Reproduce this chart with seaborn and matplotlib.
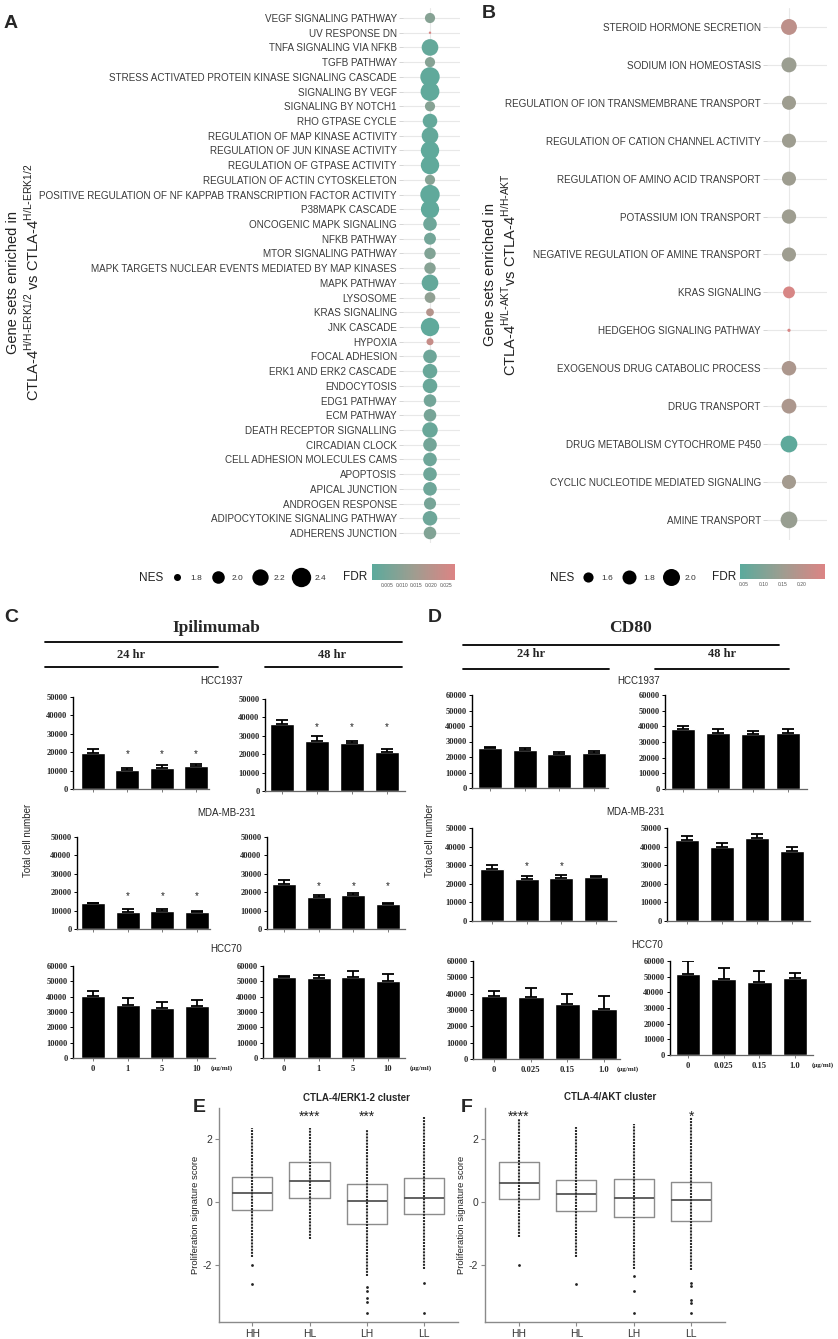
import matplotlib
matplotlib.use("Agg")
import matplotlib.pyplot as plt
import seaborn as sns
import numpy as np
import pandas as pd
from matplotlib.colors import LinearSegmentedColormap, Normalize
from matplotlib.cm import ScalarMappable
from matplotlib.lines import Line2D

sns.set_theme(style="white")
plt.rcParams["font.family"] = ["Liberation Sans", "DejaVu Sans"]
plt.rcParams["axes.unicode_minus"] = False
SERIF = ["Liberation Serif", "DejaVu Serif"]

W, H = 838, 1339

# ---------------- A: ERK1/2 gene sets ----------------
a_terms = [
    "VEGF SIGNALING PATHWAY", "UV RESPONSE DN", "TNFA SIGNALING VIA NFKB", "TGFB PATHWAY",
    "STRESS ACTIVATED PROTEIN KINASE SIGNALING CASCADE", "SIGNALING BY VEGF",
    "SIGNALING BY NOTCH1", "RHO GTPASE CYCLE", "REGULATION OF MAP KINASE ACTIVITY",
    "REGULATION OF JUN KINASE ACTIVITY", "REGULATION OF GTPASE ACTIVITY",
    "REGULATION OF ACTIN CYTOSKELETON",
    "POSITIVE REGULATION OF NF KAPPAB TRANSCRIPTION FACTOR ACTIVITY", "P38MAPK CASCADE",
    "ONCOGENIC MAPK SIGNALING", "NFKB PATHWAY", "MTOR SIGNALING PATHWAY",
    "MAPK TARGETS NUCLEAR EVENTS MEDIATED BY MAP KINASES", "MAPK PATHWAY", "LYSOSOME",
    "KRAS SIGNALING", "JNK CASCADE", "HYPOXIA", "FOCAL ADHESION", "ERK1 AND ERK2 CASCADE",
    "ENDOCYTOSIS", "EDG1 PATHWAY", "ECM PATHWAY", "DEATH RECEPTOR SIGNALLING",
    "CIRCADIAN CLOCK", "CELL ADHESION MOLECULES CAMS", "APOPTOSIS", "APICAL JUNCTION",
    "ANDROGEN RESPONSE", "ADIPOCYTOKINE SIGNALING PATHWAY", "ADHERENS JUNCTION",
]
a_nes = [1.90, 1.72, 2.22, 1.90, 2.40, 2.36, 1.90, 2.10, 2.22, 2.33, 2.33, 1.90,
         2.40, 2.32, 2.05, 1.97, 1.95, 1.95, 2.22, 1.92, 1.82, 2.33, 1.80, 2.05,
         2.10, 2.10, 2.00, 2.00, 2.15, 2.05, 2.05, 2.05, 2.05, 1.98, 2.10, 2.00]
a_fdr = [0.009, 0.027, 0.002, 0.009, 0.001, 0.001, 0.009, 0.002, 0.002, 0.001, 0.001, 0.009,
         0.001, 0.001, 0.004, 0.005, 0.008, 0.009, 0.002, 0.011, 0.019, 0.001, 0.023, 0.004,
         0.003, 0.003, 0.005, 0.006, 0.003, 0.005, 0.004, 0.004, 0.004, 0.006, 0.004, 0.008]
a_nes_legend = [1.8, 2.0, 2.2, 2.4]
a_fdr_ticks = [0.005, 0.010, 0.015, 0.020, 0.025]

# ---------------- B: AKT gene sets ----------------
b_terms = [
    "STEROID HORMONE SECRETION", "SODIUM ION HOMEOSTASIS",
    "REGULATION OF ION TRANSMEMBRANE TRANSPORT", "REGULATION OF CATION CHANNEL ACTIVITY",
    "REGULATION OF AMINO ACID TRANSPORT", "POTASSIUM ION TRANSPORT",
    "NEGATIVE REGULATION OF AMINE TRANSPORT", "KRAS SIGNALING", "HEDGEHOG SIGNALING PATHWAY",
    "EXOGENOUS DRUG CATABOLIC PROCESS", "DRUG TRANSPORT", "DRUG METABOLISM CYTOCHROME P450",
    "CYCLIC NUCLEOTIDE MEDIATED SIGNALING", "AMINE TRANSPORT",
]
b_nes = [1.92, 1.86, 1.80, 1.80, 1.80, 1.82, 1.80, 1.68, 1.40, 1.83, 1.85, 1.98, 1.80, 1.98]
b_fdr = [0.205, 0.145, 0.15, 0.15, 0.15, 0.15, 0.15, 0.25, 0.25, 0.175, 0.175, 0.045, 0.16, 0.14]
b_nes_legend = [1.6, 1.8, 2.0]
b_fdr_ticks = [0.05, 0.10, 0.15, 0.20]

# ---------------- C: Ipilimumab ----------------
ipi_doses = ["0", "1", "5", "10"]
ipi24_hcc1937 = [19300, 10300, 11600, 12300]
ipi24_hcc1937_err = [2500, 1100, 1200, 1100]
ipi48_hcc1937 = [36500, 27400, 25900, 21400]
ipi48_hcc1937_err = [2200, 2700, 1300, 1600]
ipi24_mda = [14000, 9400, 9600, 9100]
ipi24_mda_err = [200, 1400, 1200, 900]
ipi48_mda = [24700, 17400, 18700, 13500]
ipi48_mda_err = [1800, 1100, 1000, 800]
ipi24_hcc70 = [40400, 34700, 32500, 33600]
ipi24_hcc70_err = [3500, 4600, 3700, 4100]
ipi48_hcc70 = [52600, 52100, 52600, 50000]
ipi48_hcc70_err = [900, 2200, 4400, 4500]
ipi_sig = [False, True, True, True]

# ---------------- D: CD80 ----------------
cd80_doses = ["0", "0.025", "0.15", "1.0"]
cd24_hcc1937 = [26100, 24600, 21900, 22900]
cd24_hcc1937_err = [300, 1500, 1200, 900]
cd48_hcc1937 = [38100, 36000, 35100, 36000]
cd48_hcc1937_err = [1900, 2100, 1700, 2100]
cd24_mda = [28200, 22500, 23200, 23400]
cd24_mda_err = [1800, 1500, 1800, 600]
cd24_mda_sig = [False, True, True, False]
cd48_mda = [43500, 39900, 44400, 37600]
cd48_mda_err = [2000, 1800, 2400, 2000]
cd24_hcc70 = [38800, 38200, 33700, 30400]
cd24_hcc70_err = [3000, 5100, 6100, 8200]
cd48_hcc70 = [51900, 48300, 46800, 49400]
cd48_hcc70_err = [8100, 7000, 7000, 2700]
no_sig = [False, False, False, False]

# ---------------- E/F: proliferation score boxes ----------------
groups = ["HH", "HL", "LH", "LL"]
e_q1 = [-0.25, 0.15, -0.68, -0.38]
e_med = [0.30, 0.67, 0.03, 0.15]
e_q3 = [0.82, 1.28, 0.60, 0.78]
e_lo = [-1.75, -1.15, -2.35, -2.10]
e_hi = [2.35, 2.35, 2.30, 2.70]
e_out_group = ["HH", "HH", "LH", "LH", "LH", "LH", "LH", "LL", "LL"]
e_out_score = [-2.0, -2.6, -2.7, -2.8, -3.05, -3.15, -3.5, -2.55, -3.5]
e_stars = ["", "****", "***", ""]

f_q1 = [0.10, -0.28, -0.45, -0.60]
f_med = [0.62, 0.28, 0.15, 0.07]
f_q3 = [1.28, 0.72, 0.75, 0.65]
f_lo = [-1.10, -1.75, -2.10, -2.15]
f_hi = [2.65, 2.40, 2.50, 2.70]
f_out_group = ["HH", "HL", "LH", "LH", "LH", "LL", "LL", "LL", "LL", "LL"]
f_out_score = [-2.0, -2.6, -2.35, -2.8, -3.5, -2.55, -2.65, -3.1, -3.2, -3.5]
f_stars = ["****", "", "", "*"]

fdr_cmap = LinearSegmentedColormap.from_list("fdr", ["#5BAA9C", "#9E9D90", "#DC8484"])

fig = plt.figure(figsize=(W / 100, H / 100), dpi=100)


def px_axes(x0, y0, x1, y1):
    return fig.add_axes([x0 / W, 1 - y1 / H, (x1 - x0) / W, (y1 - y0) / H])


def ftext(x, y, s, **kw):
    fig.text(x / W, 1 - y / H, s, **kw)


def hline(x0, x1, y, lw=1.3):
    fig.add_artist(Line2D([x0 / W, x1 / W], [1 - y / H, 1 - y / H],
                          transform=fig.transFigure, color="black", lw=lw))


def size_of(v, norm, sizes):
    return sizes[0] + (v - norm[0]) / (norm[1] - norm[0]) * (sizes[1] - sizes[0])


def dot_panel(box, terms, nes, fdr, size_norm, sizes, fdr_norm, xlim, pad, fs):
    ax = px_axes(*box)
    df = pd.DataFrame({"term": terms, "nes": nes, "fdr": fdr, "pos": 0.0})
    sns.scatterplot(data=df, x="pos", y="term", size="nes", sizes=sizes, size_norm=size_norm,
                    hue="fdr", hue_norm=fdr_norm, palette=fdr_cmap, legend=False,
                    linewidth=0, ax=ax, zorder=3)
    n = len(terms)
    ax.set_ylim(n - 1 + pad[1], -pad[0])
    ax.set_xlim(*xlim)
    ax.set_xticks([0])
    ax.set_xticklabels([])
    ax.set_xlabel("")
    ax.set_ylabel("")
    ax.grid(True, color="#e8e8e8", lw=0.8)
    ax.set_axisbelow(True)
    for s in ax.spines.values():
        s.set_visible(False)
    ax.tick_params(axis="x", length=0)
    ax.tick_params(axis="y", left=True, length=3, width=0.6, color="#cfcfcf",
                   labelsize=fs, labelcolor="#3a3a3a", pad=1.5)
    return ax


def size_legend(values, norm, sizes, x_px, y_px):
    handles = [Line2D([], [], ls="", marker="o", color="black", markeredgewidth=0,
                      markersize=np.sqrt(size_of(v, norm, sizes))) for v in values]
    fig.legend(handles, [f"{v:.1f}" for v in values], loc="center left",
               bbox_to_anchor=(x_px / W, 1 - y_px / H), ncol=len(values), frameon=False,
               fontsize=6, handlelength=1.2, handletextpad=1.05, columnspacing=1.3,
               borderpad=0, borderaxespad=0, labelcolor="#333333")


def fdr_bar(box, vmin, vmax, ticks):
    cax = px_axes(*box)
    cb = fig.colorbar(ScalarMappable(Normalize(vmin, vmax), fdr_cmap), cax=cax,
                      orientation="horizontal")
    cb.outline.set_visible(False)
    cb.set_ticks(ticks, labels=[f"{t:.3f}" if vmax < 0.05 else f"{t:.2f}" for t in ticks])
    cax.tick_params(length=3, width=0.6, color="white", direction="in", top=True,
                    labelsize=3.6, labelcolor="#555555", pad=2.5)


# ---------------- panel A ----------------
a_size_norm, a_sizes = (1.72, 2.42), (3, 200)
dot_panel((403, 8, 460, 543), a_terms, a_nes, a_fdr, a_size_norm, a_sizes, (0.0, 0.028),
          (-0.9, 1.0), (0.68, 0.68), 7.1)
size_legend(a_nes_legend, a_size_norm, a_sizes, 172, 578)
fdr_bar((372, 564, 455, 580), 0.0, 0.028, a_fdr_ticks)
ftext(151, 578, "NES", fontsize=8.5, ha="center", va="center", color="#222222")
ftext(355, 577, "FDR", fontsize=8.5, ha="center", va="center", color="#222222")
ftext(4, 24, "A", fontsize=14, fontweight="bold", va="center")
ftext(24, 282, "Gene sets enriched in\n"
      r"CTLA-4$^{\mathregular{H/H\text{-}ERK1/2}}$ vs CTLA-4$^{\mathregular{H/L\text{-}ERK1/2}}$",
      rotation=90, ha="center", va="center", fontsize=10.5, multialignment="center",
      color="#222222")

# ---------------- panel B ----------------
b_size_norm, b_sizes = (1.39, 2.0), (3, 150)
dot_panel((767, 8, 827, 540), b_terms, b_nes, b_fdr, b_size_norm, b_sizes, (0.0397, 0.259),
          (-0.733, 1.267), (0.5, 0.53), 7.1)
size_legend(b_nes_legend, b_size_norm, b_sizes, 583, 578)
fdr_bar((740, 564, 825, 579), 0.0397, 0.259, b_fdr_ticks)
ftext(562, 578, "NES", fontsize=8.5, ha="center", va="center", color="#222222")
ftext(724, 577, "FDR", fontsize=8.5, ha="center", va="center", color="#222222")
ftext(482, 14, "B", fontsize=14, fontweight="bold", va="center")
ftext(501, 275, "Gene sets enriched in\n"
      r"CTLA-4$^{\mathregular{H/L\text{-}AKT}}$vs CTLA-4$^{\mathregular{H/H\text{-}AKT}}$",
      rotation=90, ha="center", va="center", fontsize=10.5, multialignment="center",
      color="#222222")


# ---------------- bar panels C / D ----------------
def bar_panel(x0, b0, b3, x1, y0, y1, doses, means, errs, sig, ymax, star_y,
              show_x=False, unit_x=None):
    ax = px_axes(x0, y0, x1, y1)
    sp = (b3 - b0) / 3
    df = pd.DataFrame({"dose": doses, "cells": means})
    sns.barplot(data=df, x="dose", y="cells", color="black", saturation=1, width=0.7,
                errorbar=None, ax=ax)
    ax.errorbar(np.arange(len(means)), means, yerr=[np.zeros(len(errs)), errs], fmt="none",
                ecolor="black", elinewidth=1.3, capsize=4.5, capthick=1.3)
    for i, s in enumerate(sig):
        if s:
            ax.text(i, star_y, "*", ha="center", va="center", fontsize=7, color="#222222")
    ax.set_xlim(-(b0 - x0) / sp, 3 + (x1 - b3) / sp)
    ax.set_ylim(0, ymax)
    ax.set_yticks(np.arange(0, ymax + 1, 10000))
    ax.set_yticklabels([str(int(t)) for t in np.arange(0, ymax + 1, 10000)],
                       family=SERIF, fontweight="bold", fontsize=6)
    ax.set_xlabel("")
    ax.set_ylabel("")
    ax.spines["top"].set_visible(False)
    ax.spines["right"].set_visible(False)
    ax.spines["left"].set_color("black")
    ax.spines["left"].set_linewidth(1.0)
    ax.spines["bottom"].set_color("#666666")
    ax.spines["bottom"].set_linewidth(0.9)
    ax.tick_params(axis="y", left=True, length=2, width=0.7, color="black", pad=2)
    ax.tick_params(axis="x", bottom=True, length=2, width=0.6, color="#666666", pad=3)
    if show_x:
        ax.set_xticks(range(len(doses)))
        ax.set_xticklabels(doses, family=SERIF, fontweight="bold", fontsize=6.2)
        ax.annotate("(\u03bcg/ml)", xy=(3 + (unit_x - b3) / sp, 0),
                    xycoords=ax.get_xaxis_transform(), xytext=(0, -5),
                    textcoords="offset points", ha="center", va="top",
                    family=SERIF, fontweight="bold", fontsize=5)
    else:
        ax.set_xticklabels([])
    return ax


bar_panel(73, 93, 196, 209, 697, 789, ipi_doses, ipi24_hcc1937, ipi24_hcc1937_err, ipi_sig,
          50000, 19000)
bar_panel(265, 282, 387, 405, 699, 791, ipi_doses, ipi48_hcc1937, ipi48_hcc1937_err, ipi_sig,
          50000, 34700)
bar_panel(77, 93, 197, 210, 837, 929, ipi_doses, ipi24_mda, ipi24_mda_err, ipi_sig,
          50000, 18000)
bar_panel(267, 284, 388, 405, 837, 929, ipi_doses, ipi48_mda, ipi48_mda_err, ipi_sig,
          50000, 23500)
bar_panel(73, 93, 197, 215, 966, 1058, ipi_doses, ipi24_hcc70, ipi24_hcc70_err, no_sig,
          60000, 0, show_x=True, unit_x=222)
bar_panel(263, 284, 388, 405, 966, 1058, ipi_doses, ipi48_hcc70, ipi48_hcc70_err, no_sig,
          60000, 0, show_x=True, unit_x=421)

bar_panel(472, 490, 594, 608, 695, 788, cd80_doses, cd24_hcc1937, cd24_hcc1937_err, no_sig,
          60000, 0)
bar_panel(665, 683, 788, 807, 695, 789, cd80_doses, cd48_hcc1937, cd48_hcc1937_err, no_sig,
          60000, 0)
bar_panel(472, 492, 596, 616, 828, 921, cd80_doses, cd24_mda, cd24_mda_err, cd24_mda_sig,
          50000, 29700)
bar_panel(667, 687, 792, 810, 828, 921, cd80_doses, cd48_mda, cd48_mda_err, no_sig,
          50000, 0)
bar_panel(473, 494, 604, 620, 961, 1059, cd80_doses, cd24_hcc70, cd24_hcc70_err, no_sig,
          60000, 0, show_x=True, unit_x=628)
bar_panel(670, 688, 795, 813, 961, 1055, cd80_doses, cd48_hcc70, cd48_hcc70_err, no_sig,
          60000, 0, show_x=True, unit_x=823)

# headers C
ftext(4, 617, "C", fontsize=14, fontweight="bold", va="center")
ftext(216, 628, "Ipilimumab", family=SERIF, fontweight="bold", fontsize=12.5,
      ha="center", va="center")
hline(45, 402, 642)
ftext(131, 655, "24 hr", family=SERIF, fontweight="bold", fontsize=9, ha="center", va="center")
ftext(332, 655, "48 hr", family=SERIF, fontweight="bold", fontsize=9, ha="center", va="center")
hline(45, 218, 667)
hline(265, 402, 667)
ftext(222, 681, "HCC1937", fontsize=7, ha="center", va="center")
ftext(226, 813, "MDA-MB-231", fontsize=7, ha="center", va="center")
ftext(226, 949, "HCC70", fontsize=7, ha="center", va="center")
ftext(28, 840, "Total cell number", rotation=90, fontsize=7, ha="center", va="center")

# headers D
ftext(428, 617, "D", fontsize=14, fontweight="bold", va="center")
ftext(630, 628, "CD80", family=SERIF, fontweight="bold", fontsize=12.5,
      ha="center", va="center")
hline(463, 779, 645)
ftext(531, 654, "24 hr", family=SERIF, fontweight="bold", fontsize=9, ha="center", va="center")
ftext(722, 654, "48 hr", family=SERIF, fontweight="bold", fontsize=9, ha="center", va="center")
hline(463, 609, 669)
hline(655, 789, 669)
ftext(639, 681, "HCC1937", fontsize=7, ha="center", va="center")
ftext(635, 812, "MDA-MB-231", fontsize=7, ha="center", va="center")
ftext(647, 945, "HCC70", fontsize=7, ha="center", va="center")
ftext(430, 840, "Total cell number", rotation=90, fontsize=7, ha="center", va="center")


# ---------------- panels E / F ----------------
def box_panel(box, q1, med, q3, lo, hi, out_group, out_score, stars, xlim):
    ax = px_axes(*box)
    stats = [dict(med=m, q1=a, q3=b, whislo=a, whishi=b, fliers=[])
             for a, m, b in zip(q1, med, q3)]
    ax.bxp(stats, positions=range(len(groups)), widths=0.7, showcaps=False,
           showfliers=False, manage_ticks=False,
           boxprops=dict(color="#8c8c8c", lw=1.0),
           medianprops=dict(color="#555555", lw=1.3),
           whiskerprops=dict(lw=0))
    ax.vlines(range(len(groups)), lo, hi, colors="#2b2b2b", linestyles=(0, (1.0, 0.5)),
              lw=1.5, zorder=3)
    out_df = pd.DataFrame({"group": out_group, "score": out_score})
    sns.stripplot(data=out_df, x="group", y="score", order=groups, jitter=False,
                  color="#222222", size=2, linewidth=0, ax=ax, zorder=4)
    for i, s in enumerate(stars):
        if s:
            ax.text(i, 2.58, s, ha="center", va="baseline", fontsize=10, color="#222222")
    ax.set_xlim(*xlim)
    ax.set_ylim(-3.8, 3.0)
    ax.set_yticks([-2, 0, 2])
    ax.set_yticklabels(["-2", "0", "2"])
    ax.set_xlabel("")
    ax.set_ylabel("Proliferation signature score", fontsize=6.8, color="#222222", labelpad=2)
    ax.spines["top"].set_visible(False)
    ax.spines["right"].set_visible(False)
    for s in ("left", "bottom"):
        ax.spines[s].set_color("#8a8a8a")
        ax.spines[s].set_linewidth(1.0)
    ax.tick_params(left=True, bottom=True, length=3, width=0.8, color="#8a8a8a",
                   labelsize=7.5, labelcolor="#333333", pad=2)
    return ax


box_panel((219, 1108, 458, 1322), e_q1, e_med, e_q3, e_lo, e_hi, e_out_group, e_out_score,
          e_stars, (-0.58, 3.59))
ftext(199, 1108, "E", fontsize=14, fontweight="bold", ha="center", va="center")
ftext(356, 1098, "CTLA-4/ERK1-2 cluster", fontsize=7, fontweight="bold",
      ha="center", va="center")

box_panel((485, 1108, 725, 1322), f_q1, f_med, f_q3, f_lo, f_hi, f_out_group, f_out_score,
          f_stars, (-0.59, 3.59))
ftext(467, 1107, "F", fontsize=14, fontweight="bold", ha="center", va="center")
ftext(610, 1097, "CTLA-4/AKT cluster", fontsize=7, fontweight="bold",
      ha="center", va="center")

fig.savefig("out.png", dpi=100)
